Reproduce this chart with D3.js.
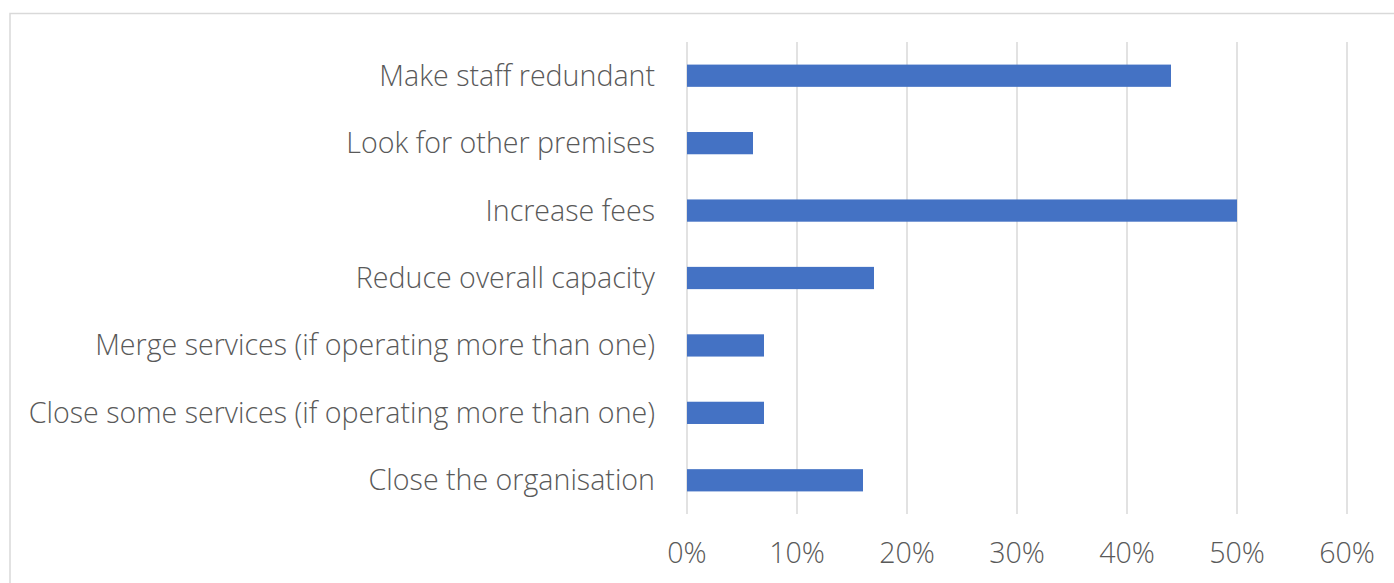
<!DOCTYPE html>
<html>
<head>
<meta charset="utf-8">
<script src="https://cdn.jsdelivr.net/npm/d3@7"></script>
<style>
  body { margin: 0; background: #fff; }
  text { font-family: "Open Sans", "Noto Sans", sans-serif; font-weight: 300; }
</style>
</head>
<body>
<div class="canvas"></div>
<script>
const categories = [
  'Make staff redundant',
  'Look for other premises',
  'Increase fees',
  'Reduce overall capacity',
  'Merge services (if operating more than one)',
  'Close some services (if operating more than one)',
  'Close the organisation'
];
const values = [0.44, 0.06, 0.50, 0.17, 0.07, 0.07, 0.16];
const ticks = [0, 0.1, 0.2, 0.3, 0.4, 0.5, 0.6];

const width = 1394, height = 583;

const svg = d3.select('.canvas')
  .append('svg')
  .attr('width', width)
  .attr('height', height);

// chart frame (right and bottom edges fall outside the picture)
svg.append('rect')
  .attr('x', 10).attr('y', 13.5)
  .attr('width', 1400).attr('height', 600)
  .attr('fill', 'none')
  .attr('stroke', '#d9d9d9')
  .attr('stroke-width', 1.5);

const x = d3.scaleLinear()
  .domain([0, 0.6])
  .range([687, 1347]);

const y = d3.scaleBand()
  .domain(categories)
  .range([42, 514])
  .paddingInner(0.67)
  .paddingOuter(0.335);

// gridlines
svg.append('g')
  .selectAll('line')
  .data(ticks)
  .enter()
  .append('line')
  .attr('x1', d => x(d)).attr('x2', d => x(d))
  .attr('y1', 42).attr('y2', 514)
  .attr('stroke', '#d9d9d9')
  .attr('stroke-width', 1.5);

// bars
svg.append('g')
  .selectAll('rect')
  .data(values)
  .enter()
  .append('rect')
  .attr('x', x(0))
  .attr('y', (d, i) => y(categories[i]))
  .attr('width', d => x(d) - x(0))
  .attr('height', y.bandwidth())
  .attr('fill', '#4472c4');

// category labels
svg.append('g')
  .selectAll('text')
  .data(categories)
  .enter()
  .append('text')
  .attr('x', 655)
  .attr('y', d => y(d) + y.bandwidth() / 2)
  .attr('dy', '0.35em')
  .attr('text-anchor', 'end')
  .attr('fill', '#595959')
  .style('font-size', '28.6px')
  .text(d => d);

// x tick labels
svg.append('g')
  .selectAll('text')
  .data(ticks)
  .enter()
  .append('text')
  .attr('x', d => x(d))
  .attr('y', 553)
  .attr('dy', '0.35em')
  .attr('text-anchor', 'middle')
  .attr('fill', '#595959')
  .style('font-size', '28.6px')
  .text(d => d3.format('.0%')(d));
</script>
</body>
</html>
